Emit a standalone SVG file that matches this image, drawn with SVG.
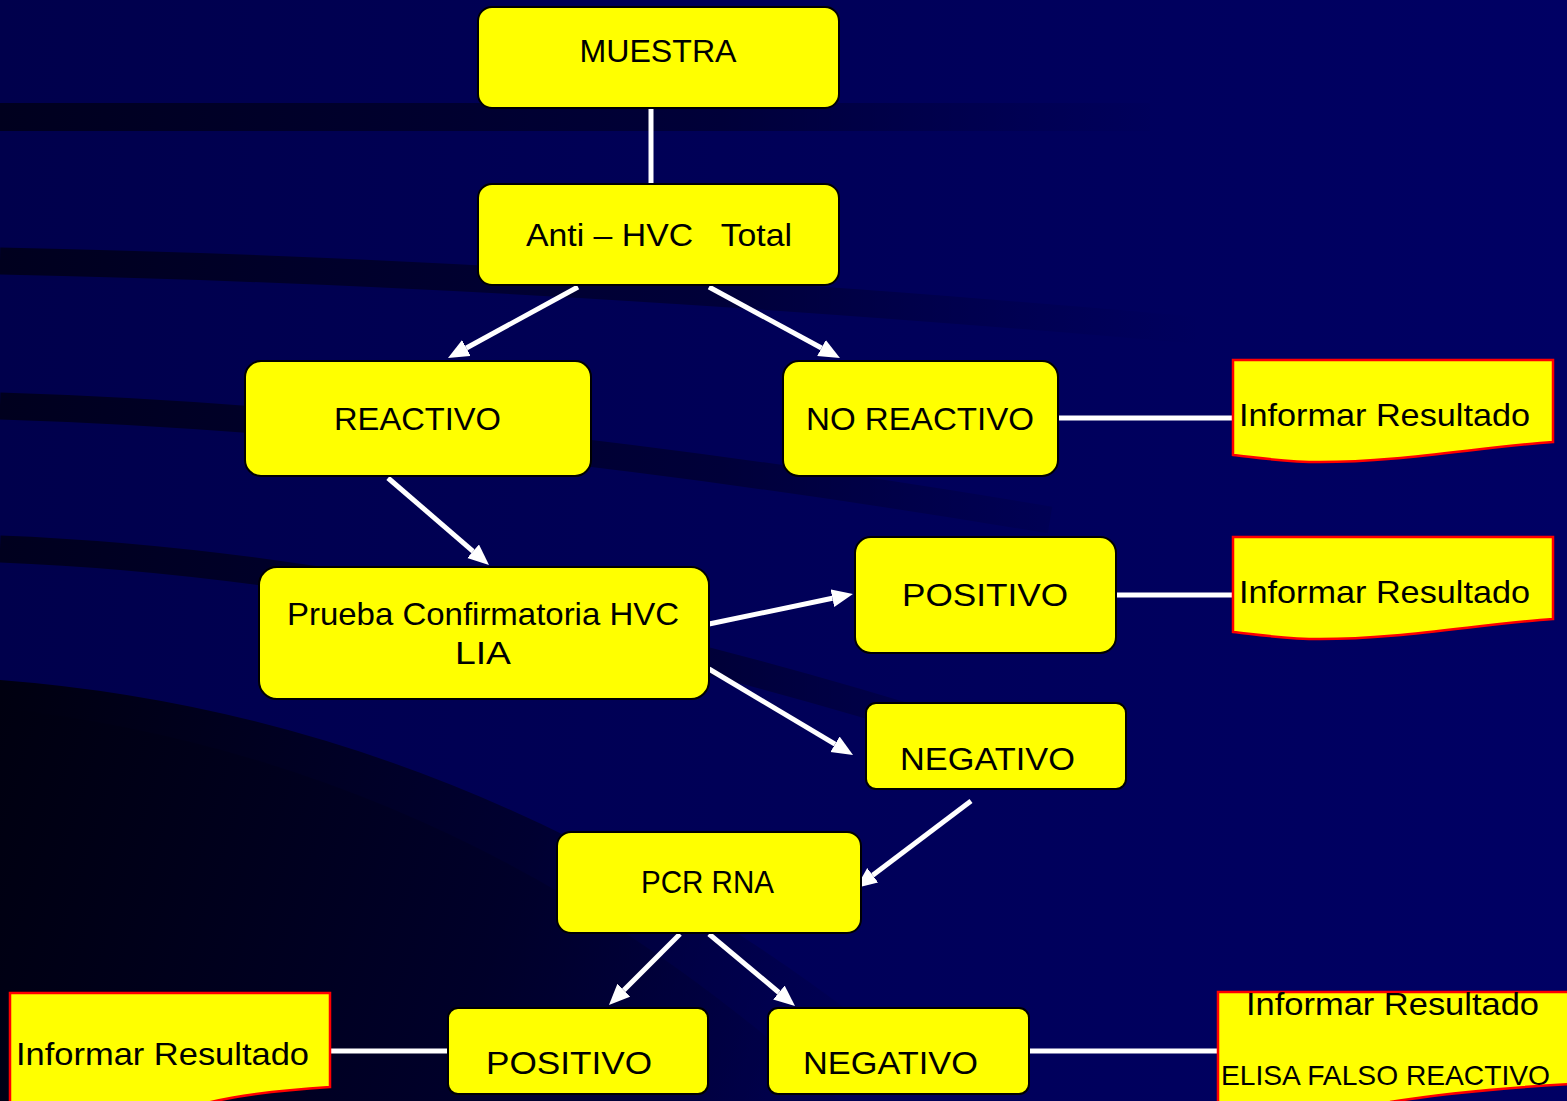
<svg xmlns="http://www.w3.org/2000/svg" width="1567" height="1101" viewBox="0 0 1567 1101">
<style>
.box{fill:#ffff00;stroke:#000;stroke-width:2}
.doc{fill:#ffff00;stroke:#ff0000;stroke-width:2.5}
.t{font-family:"Liberation Sans","DejaVu Sans",sans-serif;font-size:32px;fill:#000;white-space:pre}
.c{text-anchor:middle}
.ln{stroke:#fff;stroke-width:5;fill:none}
.ar{stroke:#fff;stroke-width:5;fill:none;marker-end:url(#ah)}
</style>
<defs>
<linearGradient id="bg" x1="0" y1="0" x2="1" y2="0">
<stop offset="0" stop-color="#00004c"/>
<stop offset="1" stop-color="#000064"/>
</linearGradient>
<linearGradient id="band" gradientUnits="userSpaceOnUse" x1="0" y1="0" x2="1200" y2="0">
<stop offset="0" stop-color="#00001e" stop-opacity="1"/>
<stop offset="0.6" stop-color="#00002c" stop-opacity="0.7"/>
<stop offset="1" stop-color="#000040" stop-opacity="0"/>
</linearGradient>
<linearGradient id="dark" gradientUnits="userSpaceOnUse" x1="0" y1="700" x2="950" y2="1000">
<stop offset="0" stop-color="#000010" stop-opacity="1"/>
<stop offset="0.55" stop-color="#000028" stop-opacity="0.8"/>
<stop offset="1" stop-color="#000040" stop-opacity="0"/>
</linearGradient>
<marker id="ah" markerUnits="userSpaceOnUse" markerWidth="24" markerHeight="20" refX="0" refY="9" orient="auto">
<path d="M0,0 L21,9 L0,18 Z" fill="#fff"/>
</marker>
</defs>
<g id="background">
<rect width="1567" height="1101" fill="url(#bg)"/>
<path d="M0,117 L1150,117" stroke="url(#band)" stroke-width="28" fill="none"/>
<path d="M0,261 Q550,272 1250,335" stroke="url(#band)" stroke-width="27" fill="none"/>
<path d="M0,406 Q450,420 1050,520" stroke="url(#band)" stroke-width="27" fill="none"/>
<path d="M0,549 Q420,565 950,730" stroke="url(#band)" stroke-width="27" fill="none"/>
<path d="M0,680 Q520,720 960,1101 L0,1101 Z" fill="url(#dark)"/>
<path d="M0,708 Q470,760 840,1101 L0,1101 Z" fill="url(#dark)"/>
</g>
<g id="connectors">
<line class="ln" x1="651" y1="108" x2="651" y2="184"/>
<line class="ar" x1="578" y1="287" x2="466.4" y2="348"/>
<line class="ar" x1="709" y1="287" x2="821.5" y2="348"/>
<line class="ln" x1="1058" y1="418" x2="1233" y2="418"/>
<line class="ar" x1="388" y1="478" x2="473.1" y2="551.3"/>
<line class="ar" x1="709" y1="624" x2="832.4" y2="598.3"/>
<line class="ar" x1="709" y1="669" x2="835" y2="744.2"/>
<line class="ln" x1="1116" y1="595" x2="1233" y2="595"/>
<line class="ar" x1="971" y1="801" x2="872.7" y2="875.3"/>
<line class="ar" x1="680" y1="934" x2="623.8" y2="990.2"/>
<line class="ar" x1="709" y1="934" x2="778.9" y2="992.5"/>
<line class="ln" x1="330" y1="1051" x2="448" y2="1051"/>
<line class="ln" x1="1029" y1="1051" x2="1218" y2="1051"/>
</g>
<g id="muestra">
<rect class="box" x="478" y="7" width="361" height="101" rx="14"/>
<text class="t c" x="658" y="62" textLength="157" lengthAdjust="spacingAndGlyphs">MUESTRA</text>
</g>
<g id="anti-hvc">
<rect class="box" x="478" y="184" width="361" height="101" rx="14"/>
<text class="t c" x="659" y="246" textLength="266" lengthAdjust="spacingAndGlyphs">Anti – HVC   Total</text>
</g>
<g id="reactivo">
<rect class="box" x="245" y="361" width="346" height="115" rx="16"/>
<text class="t c" x="417.5" y="430" textLength="167" lengthAdjust="spacingAndGlyphs">REACTIVO</text>
</g>
<g id="no-reactivo">
<rect class="box" x="783" y="361" width="275" height="115" rx="16"/>
<text class="t c" x="920" y="430" textLength="228" lengthAdjust="spacingAndGlyphs">NO REACTIVO</text>
</g>
<g id="informar-1">
<path class="doc" d="M1233,360 H1553 V442 C1480,447 1400,462 1320,462 C1285,462 1260,458 1233,455 Z"/>
<text class="t" x="1239" y="426" textLength="291" lengthAdjust="spacingAndGlyphs">Informar Resultado</text>
</g>
<g id="prueba">
<rect class="box" x="259" y="567" width="450" height="132" rx="18"/>
<text class="t c" x="483" y="625" textLength="392" lengthAdjust="spacingAndGlyphs">Prueba Confirmatoria HVC</text>
<text class="t c" x="483" y="664" textLength="56" lengthAdjust="spacingAndGlyphs">LIA</text>
</g>
<g id="positivo-1">
<rect class="box" x="855" y="537" width="261" height="116" rx="16"/>
<text class="t c" x="985" y="606" textLength="166" lengthAdjust="spacingAndGlyphs">POSITIVO</text>
</g>
<g id="informar-2">
<path class="doc" d="M1233,537 H1553 V619 C1480,624 1400,639 1320,639 C1285,639 1260,635 1233,632 Z"/>
<text class="t" x="1239" y="603" textLength="291" lengthAdjust="spacingAndGlyphs">Informar Resultado</text>
</g>
<g id="negativo-1">
<rect class="box" x="866" y="703" width="260" height="86" rx="10"/>
<text class="t c" x="987.5" y="770" textLength="175" lengthAdjust="spacingAndGlyphs">NEGATIVO</text>
</g>
<g id="pcr-rna">
<rect class="box" x="557" y="832" width="304" height="101" rx="14"/>
<text class="t c" x="707.5" y="893" textLength="133" lengthAdjust="spacingAndGlyphs">PCR RNA</text>
</g>
<g id="positivo-2">
<rect class="box" x="448" y="1008" width="260" height="86" rx="10"/>
<text class="t c" x="569" y="1074" textLength="166" lengthAdjust="spacingAndGlyphs">POSITIVO</text>
</g>
<g id="negativo-2">
<rect class="box" x="768" y="1008" width="261" height="86" rx="10"/>
<text class="t c" x="890.5" y="1074" textLength="175" lengthAdjust="spacingAndGlyphs">NEGATIVO</text>
</g>
<g id="informar-3">
<path class="doc" d="M10,993 H330 V1087 C265,1091 215,1098 175,1112 L10,1112 Z"/>
<text class="t" x="16" y="1065" textLength="293" lengthAdjust="spacingAndGlyphs">Informar Resultado</text>
</g>
<g id="informar-4">
<path class="doc" d="M1218,992 H1572 V1084 C1500,1088 1440,1094 1390,1102 L1218,1112 Z"/>
<text class="t c" x="1392.5" y="1015" textLength="293" lengthAdjust="spacingAndGlyphs">Informar Resultado</text>
<text class="t" x="1221" y="1085" style="font-size:28px" textLength="329" lengthAdjust="spacingAndGlyphs">ELISA FALSO REACTIVO</text>
</g>
</svg>
